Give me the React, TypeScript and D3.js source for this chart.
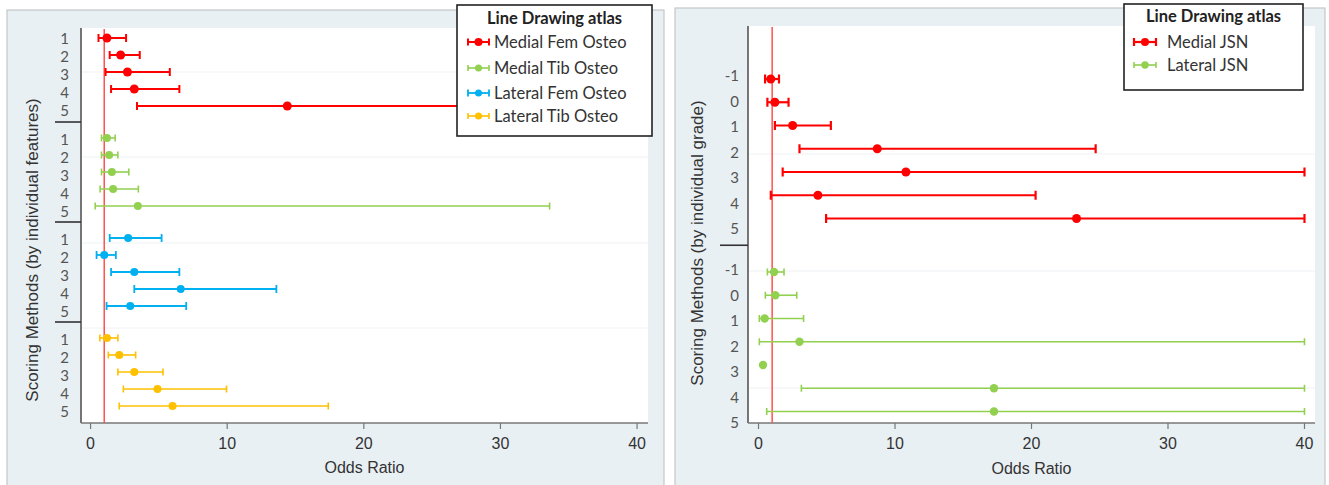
import React, { useEffect, useRef } from "react";
import * as d3 from "d3";

// ---- left chart: scoring by individual features ----
const featureCategories = ["1", "2", "3", "4", "5"];
const featureSeries = ["Medial Fem Osteo", "Medial Tib Osteo", "Lateral Fem Osteo", "Lateral Tib Osteo"];

const medialFemOR = [1.2, 2.2, 2.7, 3.2, 14.4];
const medialFemLo = [0.58, 1.4, 1.1, 1.5, 3.4];
const medialFemHi = [2.6, 3.6, 5.8, 6.5, 40];

const medialTibOR = [1.2, 1.36, 1.56, 1.65, 3.46];
const medialTibLo = [0.8, 0.8, 0.8, 0.7, 0.34];
const medialTibHi = [1.8, 2.0, 2.8, 3.5, 33.6];

const lateralFemOR = [2.75, 1.0, 3.2, 6.6, 2.9];
const lateralFemLo = [1.4, 0.44, 1.5, 3.2, 1.17];
const lateralFemHi = [5.2, 1.85, 6.5, 13.6, 7.0];

const lateralTibOR = [1.2, 2.1, 3.2, 4.9, 6.0];
const lateralTibLo = [0.68, 1.3, 2.0, 2.4, 2.1];
const lateralTibHi = [2.0, 3.3, 5.3, 9.95, 17.4];

// ---- right chart: scoring by individual grade ----
const gradeCategories = ["-1", "0", "1", "2", "3", "4", "5"];
const gradeSeries = ["Medial JSN", "Lateral JSN"];

const medialJsnOR = [0.9, 1.2, 2.5, 8.7, 10.8, 4.35, 23.3];
const medialJsnLo = [0.48, 0.65, 1.2, 3.0, 1.77, 0.9, 4.95];
const medialJsnHi = [1.5, 2.2, 5.3, 24.7, 40, 20.3, 40];

const lateralJsnOR = [1.14, 1.23, 0.45, 3.0, 0.33, 17.25, 17.25];
const lateralJsnLo = [0.65, 0.5, 0.06, 0.06, null, 3.14, 0.6];
const lateralJsnHi = [1.87, 2.8, 3.3, 40, null, 40, 40];

const xTicks = [0, 10, 20, 30, 40];

const RED = "#ff0000";
const GREEN = "#92d050";
const BLUE = "#00b0f0";
const GOLD = "#ffc000";

const ARIAL = "'Liberation Sans', Arial, sans-serif";
const CALIBRI = "Lato, 'Open Sans', sans-serif";

type Series = {
  name: string;
  color: string;
  or: number[];
  lo: (number | null)[];
  hi: (number | null)[];
  width: number;
  cap: number;
  r: number;
};

const drawPanel = (svg: any, p: any) => {
  const id = p.id;
  const g = svg.append("g");

  // panel background
  g.append("rect")
    .attr("x", p.frame[0]).attr("y", p.frame[1])
    .attr("width", p.frame[2]).attr("height", p.frame[3])
    .style("fill", "#e9f0f3").style("stroke", "#c3c7c9").style("stroke-width", 1.2);

  const [x0, x1, y0, y1] = p.plot;
  g.append("rect")
    .attr("x", x0).attr("y", y0).attr("width", x1 - x0).attr("height", y1 - y0)
    .style("fill", "#fff");

  const x = d3.scaleLinear().domain(p.xDomain).range([x0, x1]);
  const nCat = p.categories.length;
  const nGroup = p.series.length;
  const lastPos = (nGroup - 1) * p.groupRows + (nCat - 1);
  const y = d3.scaleLinear().domain([0, lastPos]).range(p.rowRange);
  const lastLbl = (nGroup - 1) * p.labelGroupRows + (nCat - 1);
  const yl = d3.scaleLinear().domain([0, lastLbl]).range(p.labelRange);

  // faint grid lines
  g.selectAll(".grid").data(p.gridYs).join("line")
    .attr("x1", x0).attr("x2", x1).attr("y1", (d) => d).attr("y2", (d) => d)
    .style("stroke", "#eef2f3").style("stroke-width", 1.2);

  // clip
  svg.append("clipPath").attr("id", "clip" + id).append("rect")
    .attr("x", x0).attr("y", y0).attr("width", x1 - x0).attr("height", y1 - y0);

  // axes
  g.append("line").attr("x1", x0).attr("x2", x0).attr("y1", y0).attr("y2", y1)
    .style("stroke", "#555").style("stroke-width", 1.6);
  g.append("line").attr("x1", x0).attr("x2", x1).attr("y1", y1).attr("y2", y1)
    .style("stroke", "#777").style("stroke-width", 1.6);
  g.selectAll(".xt").data(xTicks).join("line")
    .attr("x1", (d) => x(d)).attr("x2", (d) => x(d)).attr("y1", y1).attr("y2", y1 + 6)
    .style("stroke", "#777").style("stroke-width", 1.2);
  g.selectAll(".xl").data(xTicks).join("text")
    .attr("x", (d) => x(d)).attr("y", y1 + 26)
    .attr("text-anchor", "middle")
    .style("font-family", ARIAL).style("font-size", "16px").style("fill", "#333")
    .text((d) => d);
  g.append("text")
    .attr("x", (x0 + x1) / 2).attr("y", p.xTitleY)
    .attr("text-anchor", "middle")
    .style("font-family", ARIAL).style("font-size", "16px").style("fill", "#333")
    .text("Odds Ratio");
  g.append("text")
    .attr("transform", `translate(${p.yTitle[0]},${p.yTitle[1]}) rotate(-90)`)
    .attr("text-anchor", "middle").attr("dy", "0.35em")
    .style("font-family", ARIAL).style("font-size", "17px").style("fill", "#333")
    .text(p.yTitleText);

  // group separators
  for (let k = 0; k < nGroup - 1; k++) {
    const ys = (y(k * p.groupRows + nCat - 1) + y((k + 1) * p.groupRows)) / 2;
    g.append("line").attr("x1", p.sepX).attr("x2", x0).attr("y1", ys).attr("y2", ys)
      .style("stroke", "#333").style("stroke-width", 1.6);
  }

  // category labels
  p.series.forEach((s: Series, gi: number) => {
    g.selectAll(".lbl" + gi).data(p.categories).join("text")
      .attr("x", p.labelX)
      .attr("y", (_d, i) => yl(gi * p.labelGroupRows + i))
      .attr("dy", "0.35em")
      .attr("text-anchor", "end")
      .style("font-family", CALIBRI).style("font-size", "15px").style("fill", "#555")
      .text((d) => d);
  });

  // reference line at OR = 1
  g.append("line").attr("x1", x(1)).attr("x2", x(1)).attr("y1", y0 + 1).attr("y2", y1)
    .style("stroke", "#ff5050").style("stroke-width", 1.5);

  // error bars
  const marks = g.append("g").attr("clip-path", `url(#clip${id})`);
  p.series.forEach((s: Series, gi: number) => {
    const rows = s.or.map((v, i) => ({ v, lo: s.lo[i], hi: s.hi[i], yy: y(gi * p.groupRows + i) }));
    const ci = rows.filter((d) => d.lo != null);
    marks.selectAll(".ci" + gi).data(ci).join("line")
      .attr("x1", (d) => x(d.lo)).attr("x2", (d) => x(d.hi))
      .attr("y1", (d) => d.yy).attr("y2", (d) => d.yy)
      .style("stroke", s.color).style("stroke-width", s.width);
    ["lo", "hi"].forEach((k) => {
      marks.selectAll(".cap" + k + gi).data(ci).join("line")
        .attr("x1", (d) => x(d[k])).attr("x2", (d) => x(d[k]))
        .attr("y1", (d) => d.yy - s.cap / 2).attr("y2", (d) => d.yy + s.cap / 2)
        .style("stroke", s.color).style("stroke-width", s.width);
    });
    marks.selectAll(".pt" + gi).data(rows).join("circle")
      .attr("cx", (d) => x(d.v)).attr("cy", (d) => d.yy).attr("r", s.r)
      .style("fill", s.color);
  });

  // legend
  const L = p.legend;
  const lg = g.append("g");
  lg.append("rect").attr("x", L.box[0]).attr("y", L.box[1]).attr("width", L.box[2]).attr("height", L.box[3])
    .style("fill", "#fff").style("stroke", "#222").style("stroke-width", 1.6);
  lg.append("text").attr("x", L.box[0] + L.box[2] / 2).attr("y", L.titleY)
    .attr("text-anchor", "middle")
    .style("font-family", CALIBRI).style("font-size", "16.5px").style("font-weight", "bold").style("fill", "#222")
    .text("Line Drawing atlas");
  p.series.forEach((s: Series, i: number) => {
    const cy = L.entryYs[i];
    const [ix0, ix1] = L.icon;
    lg.append("line").attr("x1", ix0).attr("x2", ix1).attr("y1", cy).attr("y2", cy)
      .style("stroke", s.color).style("stroke-width", s.width);
    [ix0, ix1].forEach((xx) =>
      lg.append("line").attr("x1", xx).attr("x2", xx).attr("y1", cy - s.cap / 2 + 0.5).attr("y2", cy + s.cap / 2 - 0.5)
        .style("stroke", s.color).style("stroke-width", s.width));
    lg.append("circle").attr("cx", (ix0 + ix1) / 2).attr("cy", cy).attr("r", s.r - 0.5).style("fill", s.color);
    lg.append("text").attr("x", L.textX).attr("y", cy).attr("dy", "0.36em")
      .style("font-family", CALIBRI).style("font-size", "16.5px").style("fill", "#333")
      .text(s.name);
  });
};

const App = () => {
  const svgRef = useRef(null);

  useEffect(() => {
    const svg = d3.select(svgRef.current);
    svg.selectAll("*").remove();

    const leftSeries: Series[] = [
      { name: featureSeries[0], color: RED, or: medialFemOR, lo: medialFemLo, hi: medialFemHi, width: 2, cap: 8, r: 4.5 },
      { name: featureSeries[1], color: GREEN, or: medialTibOR, lo: medialTibLo, hi: medialTibHi, width: 1.6, cap: 7, r: 4 },
      { name: featureSeries[2], color: BLUE, or: lateralFemOR, lo: lateralFemLo, hi: lateralFemHi, width: 1.8, cap: 8, r: 4 },
      { name: featureSeries[3], color: GOLD, or: lateralTibOR, lo: lateralTibLo, hi: lateralTibHi, width: 1.6, cap: 7, r: 4 },
    ];
    const rightSeries: Series[] = [
      { name: gradeSeries[0], color: RED, or: medialJsnOR, lo: medialJsnLo, hi: medialJsnHi, width: 2.2, cap: 9, r: 4.5 },
      { name: gradeSeries[1], color: GREEN, or: lateralJsnOR, lo: lateralJsnLo, hi: lateralJsnHi, width: 1.6, cap: 7, r: 4.2 },
    ];

    drawPanel(svg, {
      id: "L",
      frame: [7, 10, 657, 480],
      plot: [81, 648, 28, 423],
      xDomain: [-0.7, 40.8],
      categories: featureCategories,
      series: leftSeries,
      groupRows: 5.88,
      rowRange: [38, 406],
      labelGroupRows: 5.57,
      labelRange: [39, 412],
      labelX: 69,
      sepX: 55,
      gridYs: [72, 157, 243, 328],
      xTitleY: 473,
      yTitle: [32, 250],
      yTitleText: "Scoring Methods (by individual features)",
      legend: { box: [457, 5, 195, 131], titleY: 24, entryYs: [42, 68, 93, 116], icon: [468, 489], textX: 494 },
    });

    drawPanel(svg, {
      id: "R",
      frame: [675, 8, 650, 482],
      plot: [748, 1315, 26, 423],
      xDomain: [-0.77, 40.77],
      categories: gradeCategories,
      series: rightSeries,
      groupRows: 8.3,
      rowRange: [79, 411.5],
      labelGroupRows: 7.6,
      labelRange: [76, 423],
      labelX: 739,
      sepX: 720,
      gridYs: [154, 271, 388],
      xTitleY: 474,
      yTitle: [697, 243],
      yTitleText: "Scoring Methods (by individual grade)",
      legend: { box: [1124, 4, 179, 86], titleY: 22, entryYs: [42, 65], icon: [1134, 1156], textX: 1167 },
    });
  }, []);

  return (
    <svg
      ref={svgRef}
      width={1329}
      height={485}
      style={{ position: "absolute", left: 0, top: 0, background: "#fff" }}
    />
  );
};

export default App;
